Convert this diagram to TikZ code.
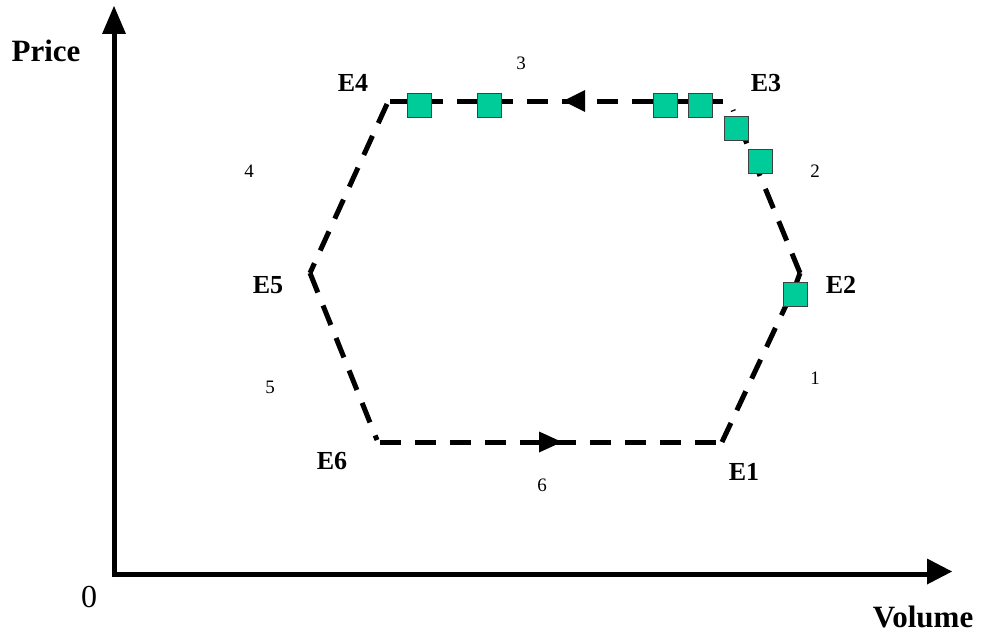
\documentclass[tikz,border=0pt]{standalone}
\usepackage{fontspec}
\setmainfont{Liberation Serif}
\begin{document}
\begin{tikzpicture}[x=1pt,y=-1pt,
  axis/.style={line width=5pt},
  edge/.style={line width=5pt, dash pattern=on 21pt off 14pt},
  tip/.style={fill=black},
  sq/.style={draw=black!75, line width=0.8pt, fill=sqgreen, minimum size=24pt, inner sep=0pt},
  elab/.style={font=\fontsize{26}{28}\selectfont\bfseries, anchor=base},
  nlab/.style={font=\fontsize{19}{21}\selectfont, anchor=base},
  alab/.style={font=\fontsize{31}{33}\selectfont\bfseries, anchor=base}]
\definecolor{sqgreen}{HTML}{00CC99}
\useasboundingbox (0,0) rectangle (982,642);
% axes
\coordinate (O) at (114,571.5);
\coordinate (Ytop) at (114,33);
\coordinate (Xend) at (928,571.5);
\draw[axis] (114,33) -- (114,574) -- (928,574);
\fill[tip] (114,6) -- (102,34) -- (126,34) -- cycle;
\fill[tip] (952,571.5) -- (927,558.5) -- (927,584.5) -- cycle;
% hexagon vertices
\coordinate (E1) at (722,442);
\coordinate (E2) at (800,273);
\coordinate (E2b) at (796,284);
\coordinate (E3) at (723,101);
\coordinate (E3b) at (733,110);
\coordinate (E4) at (390,101);
\coordinate (E4b) at (387,104);
\coordinate (E5) at (310,273);
\coordinate (E6) at (377,440);
\coordinate (E6b) at (380,442);
\draw[edge] (E6b) -- (E1);
\draw[edge] (E1) -- (E2b) -- (E2);
\draw[edge] (E2) -- (E3b);
\draw[edge] (E3) -- (E4);
\draw[edge] (E4b) -- (E5);
\draw[edge] (E5) -- (E6);
% direction arrows
\fill[tip] (562,442) -- (539,431.5) -- (539,452.5) -- cycle;
\fill[tip] (563,101) -- (585,90) -- (585,112) -- cycle;
% squares
\node[sq] (s1) at (419,105) {};
\node[sq] (s2) at (489,105) {};
\node[sq] (s3) at (665,105) {};
\node[sq] (s4) at (700,105) {};
\node[sq] (s5) at (736,128) {};
\node[sq] (s6) at (760,161) {};
\node[sq] (s7) at (795,294) {};
% labels
\node[alab] (price) at (46,62) {Price};
\node[alab] (vol) at (923,627) {Volume};
\node[font=\fontsize{32}{34}\selectfont, anchor=base] (zero) at (89,607) {0};
\node[elab] (l1) at (744,480) {E1};
\node[elab] (l2) at (841,293) {E2};
\node[elab] (l3) at (766,92) {E3};
\node[elab] (l4) at (353,92) {E4};
\node[elab] (l5) at (268,293) {E5};
\node[elab] (l6) at (332,469) {E6};
\node[nlab] (n1) at (815,384) {1};
\node[nlab] (n2) at (815,177) {2};
\node[nlab] (n3) at (521,70) {3};
\node[nlab] (n4) at (249,177) {4};
\node[nlab] (n5) at (270,393) {5};
\node[nlab] (n6) at (542,491) {6};
\end{tikzpicture}
\end{document}
